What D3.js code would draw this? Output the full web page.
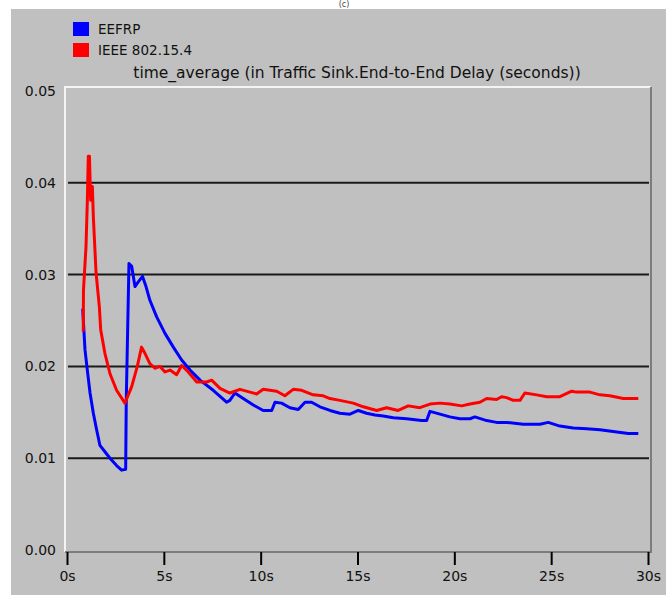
<!DOCTYPE html>
<html>
<head>
<meta charset="utf-8">
<script src="https://cdn.jsdelivr.net/npm/d3@7"></script>
<style>
  body { margin: 0; background: #ffffff; }
  svg { display: block; }
  text { font-family: "DejaVu Sans", sans-serif; fill: #111; }
</style>
</head>
<body>
<svg id="chart"></svg>
<script>
// series names and colours
const seriesNames = ['EEFRP', 'IEEE 802.15.4'];
const seriesColors = ['#0000ff', '#ff0000'];
const chartTitle = 'time_average (in Traffic Sink.End-to-End Delay (seconds))';

// axis ticks
const xTicks = [0, 5, 10, 15, 20, 25, 30];
const yTicks = [0, 0.01, 0.02, 0.03, 0.04, 0.05];

// [time (s), delay (s)]
const eefrpDelay = [
  [0.81, 0.0263], [0.93, 0.0218], [1.05, 0.0196], [1.19, 0.0171], [1.36, 0.0149],
  [1.53, 0.0131], [1.7, 0.0114], [1.96, 0.0107], [2.22, 0.0100], [2.56, 0.0092],
  [2.82, 0.0087], [3.03, 0.0088], [3.06, 0.0163], [3.13, 0.0238], [3.2, 0.0312],
  [3.34, 0.0309], [3.51, 0.0287], [3.68, 0.0292], [3.9, 0.0298], [4.08, 0.0287],
  [4.28, 0.0272], [4.63, 0.0254], [5.06, 0.0236], [5.49, 0.0221], [5.92, 0.0207],
  [6.35, 0.0196], [6.87, 0.0185], [7.55, 0.0174], [8.24, 0.0161], [8.41, 0.0163],
  [8.67, 0.0171], [9.1, 0.0165], [9.62, 0.0158], [10.13, 0.0152], [10.57, 0.0152],
  [10.74, 0.0161], [11.08, 0.0160], [11.51, 0.0155], [11.94, 0.0153], [12.29, 0.0161],
  [12.63, 0.0161], [13.06, 0.0156], [13.58, 0.0152], [14.09, 0.0149], [14.61, 0.0148],
  [15.04, 0.0152], [15.47, 0.0149], [15.9, 0.0147], [16.33, 0.0146], [16.85, 0.0144],
  [17.54, 0.0143], [18.31, 0.0141], [18.57, 0.0141], [18.74, 0.0151], [19.26, 0.0148],
  [19.77, 0.0145], [20.29, 0.0143], [20.81, 0.0143], [21.06, 0.0145], [21.67, 0.0141],
  [22.18, 0.0139], [22.7, 0.0139], [23.56, 0.0137], [24.42, 0.0137], [24.85, 0.0139],
  [25.45, 0.0135], [26.14, 0.0133], [26.83, 0.0132], [27.52, 0.0131], [28.2, 0.0129],
  [28.98, 0.0127], [29.5, 0.0127]
];

const ieeeDelay = [
  [0.84, 0.0238], [0.85, 0.0283], [0.98, 0.0330], [1.05, 0.0380], [1.1, 0.0429],
  [1.16, 0.0429], [1.22, 0.0381], [1.31, 0.0396], [1.36, 0.0363], [1.5, 0.0302],
  [1.67, 0.0265], [1.74, 0.0240], [1.96, 0.0214], [2.22, 0.0192], [2.56, 0.0174],
  [2.99, 0.0160], [3.34, 0.0178], [3.63, 0.0200], [3.85, 0.0221], [4.03, 0.0214],
  [4.28, 0.0203], [4.54, 0.0198], [4.8, 0.0200], [5.06, 0.0194], [5.32, 0.0196],
  [5.66, 0.0191], [5.92, 0.0201], [6.26, 0.0194], [6.7, 0.0183], [7.21, 0.0183],
  [7.47, 0.0185], [7.9, 0.0176], [8.41, 0.0171], [8.93, 0.0175], [9.45, 0.0172],
  [9.79, 0.0170], [10.13, 0.0175], [10.83, 0.0173], [11.25, 0.0168], [11.68, 0.0175],
  [12.12, 0.0174], [12.71, 0.0169], [13.23, 0.0168], [13.58, 0.0165], [14.09, 0.0163],
  [14.78, 0.0160], [15.3, 0.0156], [15.99, 0.0152], [16.5, 0.0155], [17.1, 0.0152],
  [17.62, 0.0157], [18.22, 0.0155], [18.74, 0.0159], [19.26, 0.0160], [19.77, 0.0159],
  [20.38, 0.0157], [20.81, 0.0159], [21.32, 0.0161], [21.67, 0.0165], [22.18, 0.0164],
  [22.44, 0.0167], [22.7, 0.0166], [23.04, 0.0163], [23.39, 0.0163], [23.64, 0.0171],
  [24.25, 0.0169], [24.77, 0.0167], [25.45, 0.0167], [26.06, 0.0173], [26.31, 0.0172],
  [27.0, 0.0172], [27.52, 0.0169], [28.03, 0.0168], [28.72, 0.0165], [29.5, 0.0165]
];

const width = 666, height = 595;
const svg = d3.select('#chart')
    .attr('width', width)
    .attr('height', height);

// grey panel
svg.append('rect')
    .attr('x', 11).attr('y', 9)
    .attr('width', width - 11).attr('height', height - 9)
    .attr('fill', '#c0c0c0');

// caption in the white strip above the panel
svg.append('text')
    .attr('x', 344).attr('y', 7)
    .attr('text-anchor', 'middle')
    .style('font-size', '8px')
    .style('fill', '#444')
    .text('(c)');

// scales
let x = d3.scaleLinear().domain([0, 30]).range([67, 648]);
let y = d3.scaleLinear().domain([0, 0.05]).range([550, 91]);

const frame = { left: 65, right: 651, top: 87, bottom: 552 };

// grid lines
svg.append('g')
    .selectAll('line')
    .data(yTicks.filter(d => d > 0 && d < 0.05))
    .enter().append('line')
    .attr('x1', frame.left + 3).attr('x2', frame.right - 2)
    .attr('y1', d => y(d)).attr('y2', d => y(d))
    .attr('stroke', '#1a1a1a')
    .attr('stroke-width', 2);

// frame (sunken look)
svg.append('path')
    .attr('d', `M${frame.left},${frame.bottom} V${frame.top} H${frame.right}`)
    .attr('fill', 'none').attr('stroke', '#f4f4f4').attr('stroke-width', 2);
svg.append('path')
    .attr('d', `M${frame.left},${frame.bottom} H${frame.right} V${frame.top}`)
    .attr('fill', 'none').attr('stroke', '#7c7c7c').attr('stroke-width', 2);

// x axis
let xAxis = d3.axisBottom(x)
    .tickValues(xTicks)
    .tickFormat(d => d + 's')
    .tickSize(13)
    .tickPadding(6);

let gx = svg.append('g')
    .attr('transform', `translate(0, ${frame.bottom})`)
    .call(xAxis);
gx.select('.domain').remove();
gx.selectAll('.tick line').attr('stroke', '#000').attr('stroke-width', 2);
gx.selectAll('.tick text')
    .style('font-size', '14px')
    .style('fill', '#111')
    .style('font-family', '"DejaVu Sans", sans-serif');

// y axis (labels only)
let yAxis = d3.axisLeft(y)
    .tickValues(yTicks)
    .tickFormat(d3.format('.2f'))
    .tickSize(0)
    .tickPadding(9);

let gy = svg.append('g')
    .attr('transform', `translate(${frame.left}, 0)`)
    .call(yAxis);
gy.select('.domain').remove();
gy.selectAll('.tick text')
    .style('font-size', '14px')
    .style('fill', '#111')
    .style('font-family', '"DejaVu Sans", sans-serif');

// lines
let line = d3.line()
    .x(d => x(d[0]))
    .y(d => y(d[1]));

[eefrpDelay, ieeeDelay].forEach((data, i) => {
    svg.append('path')
        .datum(data)
        .attr('fill', 'none')
        .attr('stroke', seriesColors[i])
        .attr('stroke-width', 3)
        .attr('stroke-linejoin', 'round')
        .attr('d', line);
});

// legend
let legend = svg.append('g');
seriesNames.forEach((name, i) => {
    legend.append('rect')
        .attr('x', 73).attr('y', 22 + i * 21)
        .attr('width', 16).attr('height', 14)
        .attr('fill', seriesColors[i]);
    legend.append('text')
        .attr('x', 98).attr('y', 34 + i * 21)
        .style('font-size', '13.5px')
        .text(name);
});

// title
svg.append('text')
    .attr('x', 357).attr('y', 78)
    .attr('text-anchor', 'middle')
    .style('font-size', '15.5px')
    .text(chartTitle);
</script>
</body>
</html>
